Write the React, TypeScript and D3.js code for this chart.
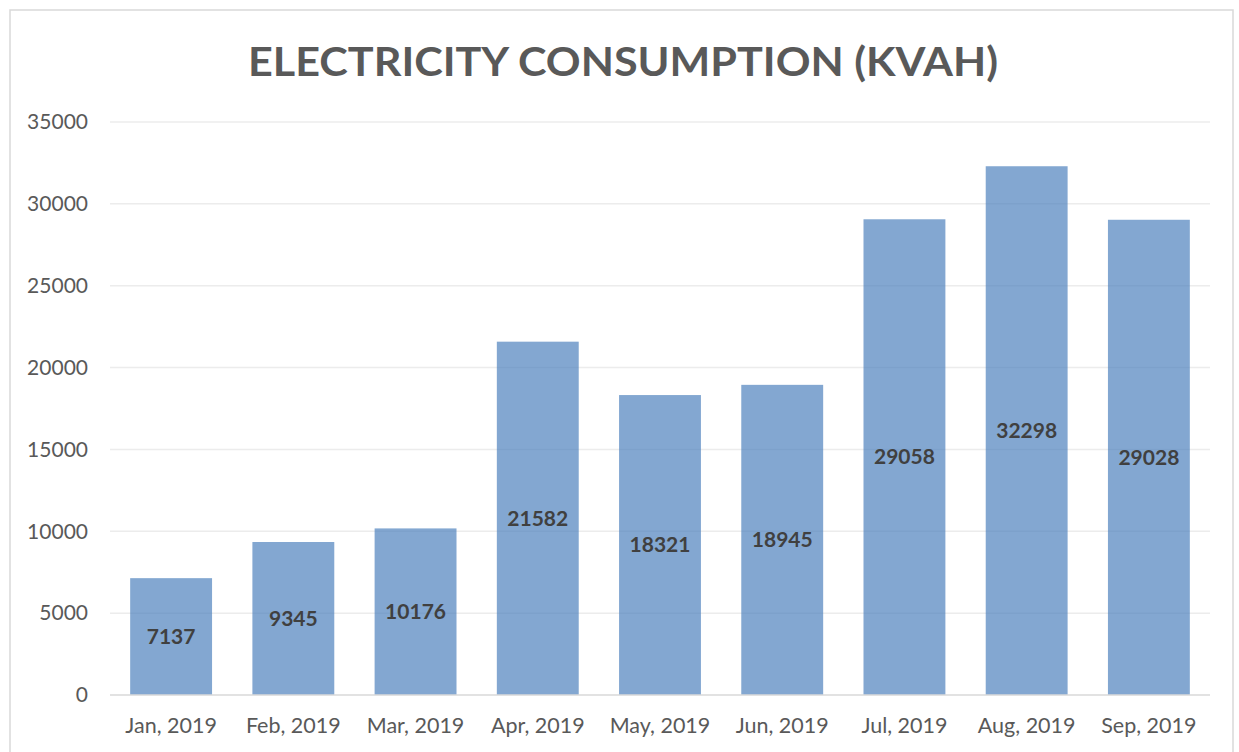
import React from "react";
import * as d3 from "d3";

const months = ["Jan, 2019", "Feb, 2019", "Mar, 2019", "Apr, 2019", "May, 2019", "Jun, 2019", "Jul, 2019", "Aug, 2019", "Sep, 2019"];
const consumption = [7137, 9345, 10176, 21582, 18321, 18945, 29058, 32298, 29028];
const yTicks = [0, 5000, 10000, 15000, 20000, 25000, 30000, 35000];
const title = "ELECTRICITY CONSUMPTION (KVAH)";

export default function App() {
  const W = 1239, H = 752;
  const left = 110, right = 1210, top = 122, bottom = 695;
  const x = d3.scaleBand<string>().domain(months).range([left, right]).paddingInner(0.33).paddingOuter(0.165);
  const y = d3.scaleLinear().domain([0, 35000]).range([bottom, top]);
  const font = "Lato, 'Open Sans', sans-serif";
  return (
    <svg width={W} height={H} style={{ position: "absolute", left: 0, top: 0 }}>
      <rect x={0} y={0} width={W} height={H} fill="#fff" />
      <rect x={10} y={10} width={1223} height={760} fill="#fff" stroke="#d9d9d9" strokeWidth={1.5} />
      <text x={623} y={76} textAnchor="middle" fontFamily={font} fontWeight="bold" fontSize={40} fill="#595959" textLength={750} lengthAdjust="spacingAndGlyphs">{title}</text>
      {yTicks.map((t) => (
        <g key={t}>
          {t > 0 && <line x1={left} x2={right} y1={y(t)} y2={y(t)} stroke="#ececec" strokeWidth={1.5} />}
          <text x={88} y={y(t)} dy="0.35em" textAnchor="end" fontFamily={font} fontSize={21} fill="#595959">{t}</text>
        </g>
      ))}
      {months.map((m, i) => (
        <rect key={m} x={x(m)!} y={y(consumption[i])} width={x.bandwidth()} height={bottom - y(consumption[i])} fill="rgb(79,129,189)" fillOpacity={0.7} />
      ))}
      <line x1={left} x2={right} y1={bottom} y2={bottom} stroke="#d9d9d9" strokeWidth={1.5} />
      {months.map((m, i) => (
        <text key={m + "l"} x={x(m)! + x.bandwidth() / 2} y={(y(consumption[i]) + bottom) / 2} dy="0.35em" textAnchor="middle" fontFamily={font} fontWeight="bold" fontSize={21} fill="#404040">{consumption[i]}</text>
      ))}
      {months.map((m) => (
        <text key={m + "x"} x={x(m)! + x.bandwidth() / 2} y={733} textAnchor="middle" fontFamily={font} fontSize={21.5} fill="#595959">{m}</text>
      ))}
    </svg>
  );
}
